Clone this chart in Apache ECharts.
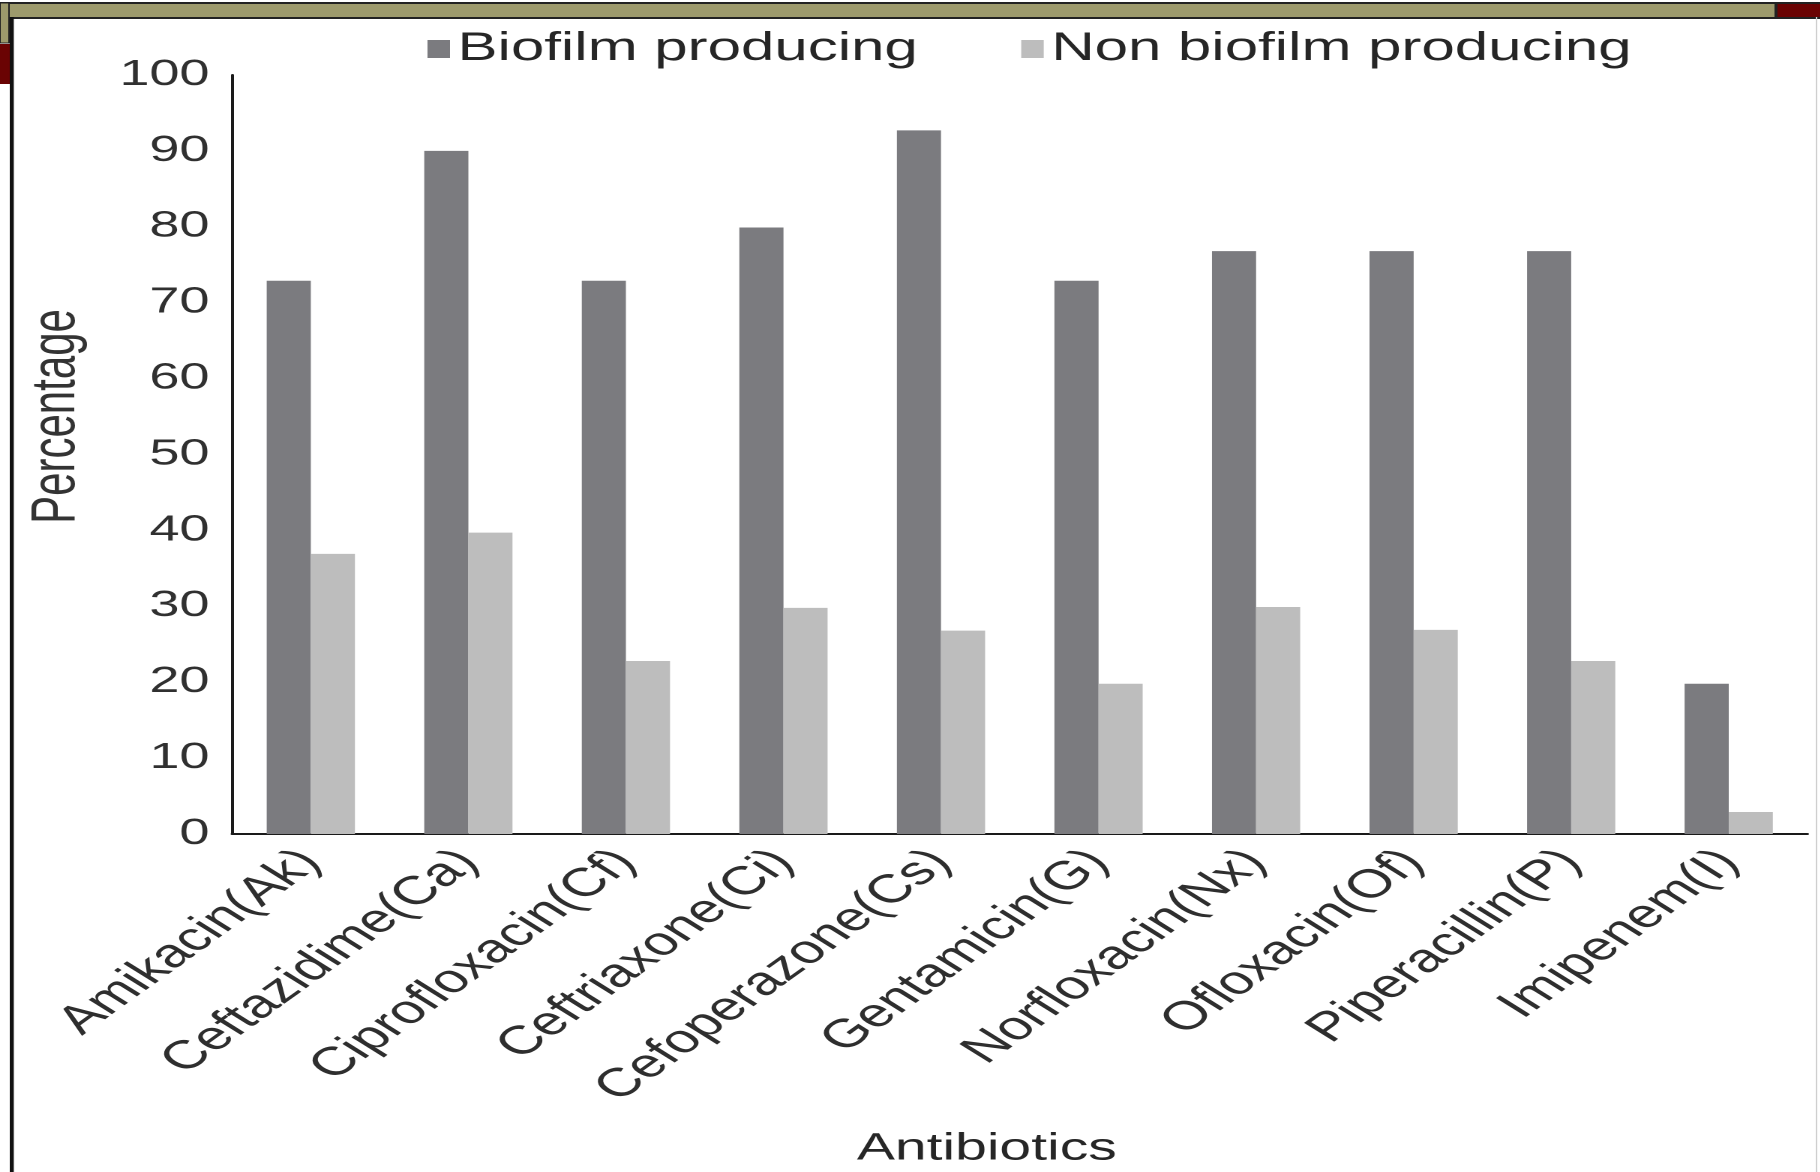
<!DOCTYPE html>
<html>
<head>
<meta charset="utf-8">
<script src="https://cdn.jsdelivr.net/npm/echarts@6/dist/echarts.min.js"></script>
<style>
html, body { margin: 0; padding: 0; background: #fff; overflow: hidden; }
/* the source figure is stretched sideways, so draw narrow and widen it */
#chart { width: 1213.33px; height: 1172px; transform: scaleX(1.5); transform-origin: 0 0; }
</style>
</head>
<body>
<div id="chart"></div>
<script>
var categories = ['Amikacin(Ak)', 'Ceftazidime(Ca)', 'Ciprofloxacin(Cf)', 'Ceftriaxone(Ci)', 'Cefoperazone(Cs)',
  'Gentamicin(G)', 'Norfloxacin(Nx)', 'Ofloxacin(Of)', 'Piperacillin(P)', 'Imipenem(I)'];
var biofilm = [72.9, 90.0, 72.9, 79.9, 92.7, 72.9, 76.8, 76.8, 76.8, 19.8];
var nonBiofilm = [36.9, 39.7, 22.8, 29.8, 26.8, 19.8, 29.9, 26.9, 22.8, 2.9];
var yMin = 0, yMax = 100, yStep = 10;

var font = 'Liberation Sans, Arial, sans-serif';
var olive = '#9d9a6c', maroon = '#6a0303', edge = '#222';

var chart = echarts.init(document.getElementById('chart'), null, { devicePixelRatio: 2 });
chart.setOption({
  backgroundColor: '#fff',
  color: ['#7b7b7f', '#bdbdbd'],
  textStyle: { fontFamily: font },
  // frame of the slide the figure was cut from
  graphic: [
    { type: 'rect', shape: { x: 0, y: 3, width: 1184, height: 15 }, style: { fill: olive, stroke: edge, lineWidth: 2 } },
    { type: 'rect', shape: { x: 0, y: 3, width: 6, height: 40 }, style: { fill: olive, stroke: edge, lineWidth: 1 } },
    { type: 'rect', shape: { x: 0, y: 44, width: 7, height: 40 }, style: { fill: maroon } },
    { type: 'rect', shape: { x: 1184, y: 3, width: 30, height: 15 }, style: { fill: maroon, stroke: edge, lineWidth: 2 } },
    { type: 'rect', shape: { x: 6.5, y: 17, width: 2.7, height: 1160 }, style: { fill: '#111' } },
    { type: 'rect', shape: { x: 1210.5, y: 17, width: 1, height: 1160 }, style: { fill: '#cfcfcf' } }
  ],
  legend: {
    left: 285,
    top: 29,
    padding: 0,
    itemGap: 69,
    itemWidth: 15,
    itemHeight: 18,
    icon: 'rect',
    textStyle: { fontSize: 40, color: '#262626', fontFamily: font },
    data: ['Biofilm producing', 'Non biofilm producing']
  },
  grid: { left: 154.7, right: 8, top: 75, bottom: 338, containLabel: false, outerBoundsMode: 'none' },
  xAxis: {
    type: 'category',
    data: categories,
    name: 'Antibiotics',
    nameLocation: 'middle',
    nameGap: 296,
    nameTextStyle: { fontSize: 38, color: '#262626', padding: [0, 44, 0, 0] },
    axisLine: { lineStyle: { color: '#1a1a1a', width: 2 } },
    axisTick: { show: false },
    axisLabel: { interval: 0, rotate: 47, fontSize: 40, color: '#2e2e2e', margin: 22 }
  },
  yAxis: {
    type: 'value',
    min: yMin,
    max: yMax,
    interval: yStep,
    name: 'Percentage',
    nameLocation: 'middle',
    nameGap: 96,
    nameTextStyle: { fontSize: 42, color: '#333', padding: [0, 0, 0, 76] },
    axisLine: { show: true, lineStyle: { color: '#1a1a1a', width: 2 } },
    axisTick: { show: false },
    splitLine: { show: false },
    axisLabel: { fontSize: 36, color: '#303030', margin: 15 }
  },
  series: [
    { name: 'Biofilm producing', type: 'bar', data: biofilm, barWidth: '28%', barGap: '0%' },
    { name: 'Non biofilm producing', type: 'bar', data: nonBiofilm, barWidth: '28%', barGap: '0%' }
  ]
});
</script>
</body>
</html>
